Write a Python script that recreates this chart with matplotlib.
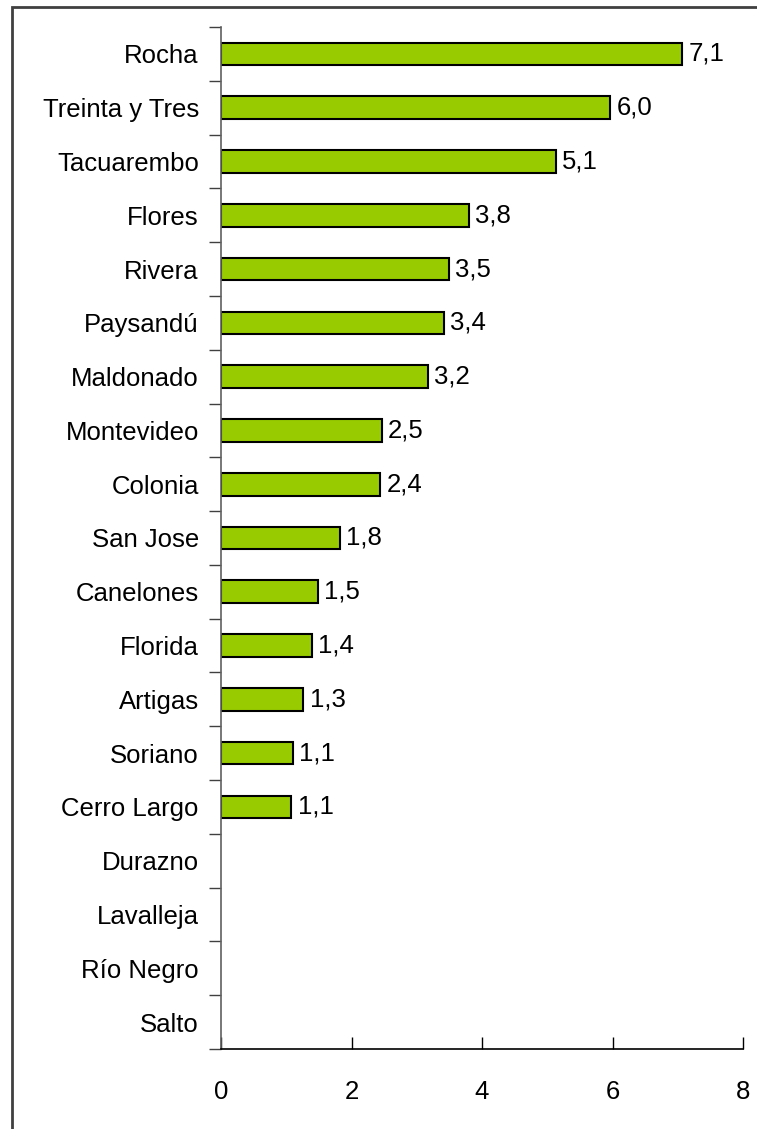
import matplotlib
matplotlib.use("Agg")
import matplotlib.pyplot as plt
from matplotlib.patches import Rectangle

plt.rcParams['font.family'] = ['Liberation Sans', 'DejaVu Sans']

departamentos = ['Rocha', 'Treinta y Tres', 'Tacuarembo', 'Flores', 'Rivera',
                 'Paysandú', 'Maldonado', 'Montevideo', 'Colonia', 'San Jose',
                 'Canelones', 'Florida', 'Artigas', 'Soriano', 'Cerro Largo',
                 'Durazno', 'Lavalleja', 'Río Negro', 'Salto']
valores = [7.06, 5.96, 5.13, 3.80, 3.49, 3.41, 3.17, 2.46, 2.44, 1.82,
           1.48, 1.39, 1.26, 1.10, 1.08, 0, 0, 0, 0]
xticks = [0, 2, 4, 6, 8]

fig = plt.figure(figsize=(7.57, 11.29), dpi=100)
ax = fig.add_axes([221/757, 1-1049/1129, (743-221)/757, (1049-27)/1129])

n = len(departamentos)
ys = list(range(n))
for y, v in zip(ys, valores):
    if v > 0:
        ax.barh(y, v, height=0.42, color='#99CC00', edgecolor='black', linewidth=1.5)
        ax.text(v + 0.1, y, f"{v:.1f}".replace('.', ','), va='center', ha='left', fontsize=18.5)

ax.set_ylim(n - 0.5, -0.5)
ax.set_xlim(0, 8)
ax.set_yticks(ys)
ax.set_yticklabels(departamentos, fontsize=18.5)
ax.tick_params(axis='y', which='major', length=0, pad=16)
ax.set_yticks([i - 0.5 for i in range(n + 1)], minor=True)
ax.tick_params(axis='y', which='minor', length=9, width=1, color='#404040', direction='out')
ax.set_xticks(xticks)
ax.set_xticklabels([str(t) for t in xticks], fontsize=18.5)
ax.tick_params(axis='x', length=9, width=1, direction='in', pad=22)

ax.spines['top'].set_visible(False)
ax.spines['right'].set_visible(False)
ax.spines['left'].set_color('#606060')
ax.spines['left'].set_linewidth(1.2)
ax.spines['bottom'].set_linewidth(1.2)

# marco exterior del grafico
fig.patches.append(Rectangle((12/757, -0.1), 1.2, 1 - 7/1129 + 0.1, transform=fig.transFigure,
                             fill=False, edgecolor='#404040', linewidth=2))

fig.savefig('out.png', dpi=100)
